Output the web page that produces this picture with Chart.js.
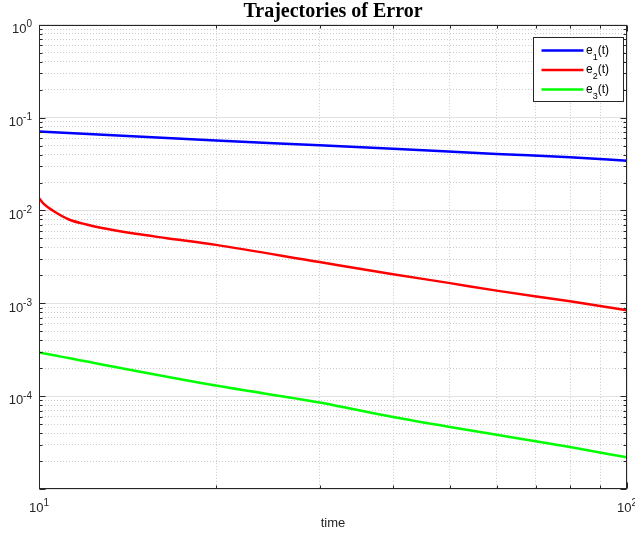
<!DOCTYPE html>
<html>
<head>
<meta charset="utf-8">
<title>Trajectories of Error</title>
<script src="https://cdn.jsdelivr.net/npm/chart.js@4.4.1/dist/chart.umd.min.js"></script>
<style>
  html, body { margin: 0; padding: 0; background: #fff; }
  #wrap { width: 635px; height: 535px; position: relative; }
</style>
</head>
<body>
<div id="wrap"><canvas id="chart"></canvas></div>
<script>
// values (log-log axes)
const t1 = [10, 20, 30, 40, 60, 80, 100];
const e1 = [0.0707, 0.0567, 0.0505, 0.0463, 0.0406, 0.0375, 0.0344];

const t2 = [10, 10.2, 10.55, 11.25, 12, 12.8, 14.6, 16.5, 20, 30, 40, 50, 60, 80, 100];
const e2 = [0.0136, 0.0117, 0.0100, 0.0080, 0.0071, 0.00647, 0.0056, 0.00503, 0.00426, 0.00278, 0.00206, 0.00165, 0.00137, 0.00105, 0.00084];

const t3 = [10, 20, 30, 40, 50, 60, 80, 100];
const e3 = [2.95e-4, 1.30e-4, 8.55e-5, 5.96e-5, 4.65e-5, 3.84e-5, 2.83e-5, 2.19e-5];

const seriesLabels = ["e_1(t)", "e_2(t)", "e_3(t)"];
const seriesColors = ["#0000ff", "#ff0000", "#00ff00"];

// axis ticks
const xMajor = [10, 100];
const xMinor = [20, 30, 40, 50, 60, 70, 80, 90];
const xTickLabels = ["10^{1}", "10^{2}"];
const yMajor = [1e-5, 1e-4, 1e-3, 1e-2, 1e-1, 1];
const yMinor = [-5, -4, -3, -2, -1].flatMap(k => [2, 3, 4, 5, 6, 7, 8, 9].map(m => m * Math.pow(10, k)));
const yTickValues = [1e-4, 1e-3, 1e-2, 1e-1, 1];
const yTickLabels = ["10^{-4}", "10^{-3}", "10^{-2}", "10^{-1}", "10^{0}"];

const AX = "#262626";
const SANS = '"Liberation Sans", Arial, sans-serif';

const pts = (xs, ys) => xs.map((x, i) => ({ x, y: ys[i] }));

// split "10^{-1}" / "e_1(t)" into normal, super and sub pieces
function texParts(s) {
  const parts = [];
  let i = 0;
  while (i < s.length) {
    const c = s[i];
    if ((c === "^" || c === "_") && i + 1 < s.length) {
      let txt;
      if (s[i + 1] === "{") { const j = s.indexOf("}", i); txt = s.slice(i + 2, j); i = j + 1; }
      else { txt = s[i + 1]; i += 2; }
      parts.push({ txt, mode: c });
    } else {
      let j = i;
      while (j < s.length && s[j] !== "^" && s[j] !== "_") j++;
      parts.push({ txt: s.slice(i, j), mode: "" });
      i = j;
    }
  }
  return parts;
}

function drawTex(ctx, s, x, y, align, size, color) {
  const parts = texParts(s);
  const small = Math.round(size * 0.75);
  const fontFor = p => `${p.mode ? small : size}px ${SANS}`;
  let w = 0;
  parts.forEach(p => { ctx.font = fontFor(p); p.w = ctx.measureText(p.txt).width; w += p.w; });
  let cx = align === "right" ? x - w : align === "center" ? x - w / 2 : x;
  ctx.fillStyle = color;
  ctx.textAlign = "left";
  ctx.textBaseline = "alphabetic";
  parts.forEach(p => {
    ctx.font = fontFor(p);
    const dy = p.mode === "^" ? -size * 0.45 : p.mode === "_" ? size * 0.5 : 0;
    ctx.fillText(p.txt, cx, y + dy);
    cx += p.w;
  });
}

// box, inward ticks, tick labels and legend in the MATLAB style
const matlabAxes = {
  id: "matlabAxes",
  afterDraw(chart) {
    const { ctx, chartArea: a, scales } = chart;
    ctx.save();
    ctx.strokeStyle = AX;
    ctx.lineWidth = 1;
    const L = Math.round(a.left) + 0.5, R = Math.round(a.right) - 0.5;
    const T = Math.round(a.top) + 0.5, B = Math.round(a.bottom) - 0.5;

    const tickSet = (vals, scale, len, horiz) => {
      vals.forEach(v => {
        const p = Math.round(scale.getPixelForValue(v)) + 0.5;
        ctx.beginPath();
        if (horiz) {
          ctx.moveTo(p, B); ctx.lineTo(p, B - len);
          ctx.moveTo(p, T); ctx.lineTo(p, T + len);
        } else {
          ctx.moveTo(L, p); ctx.lineTo(L + len, p);
          ctx.moveTo(R, p); ctx.lineTo(R - len, p);
        }
        ctx.stroke();
      });
    };
    tickSet(xMajor, scales.x, 6, true);
    tickSet(xMinor, scales.x, 3, true);
    tickSet(yMajor, scales.y, 6, false);
    tickSet(yMinor, scales.y, 3, false);
    ctx.strokeRect(L, T, R - L, B - T);

    yTickValues.forEach((v, i) => {
      const p = scales.y.getPixelForValue(v);
      drawTex(ctx, yTickLabels[i], a.left - 7, p + 8.3, "right", 13, AX);
    });
    xMajor.forEach((v, i) => {
      const p = scales.x.getPixelForValue(v);
      drawTex(ctx, xTickLabels[i], p, a.bottom + 22.5, "center", 13, AX);
    });

    // legend
    const bw = 90, bh = 64;
    const bx = Math.round(a.right - 4 - bw) + 0.5, by = Math.round(a.top + 12) + 0.5;
    ctx.fillStyle = "#fff";
    ctx.fillRect(bx, by, bw, bh);
    ctx.strokeStyle = AX;
    ctx.strokeRect(bx, by, bw, bh);
    chart.data.datasets.forEach((ds, i) => {
      const ry = by + 13 + i * 19.5;
      ctx.strokeStyle = ds.borderColor;
      ctx.lineWidth = 2.5;
      ctx.beginPath();
      ctx.moveTo(bx + 8, ry); ctx.lineTo(bx + 50, ry);
      ctx.stroke();
      drawTex(ctx, ds.label, bx + 52.5, ry + 3, "left", 12, "#000");
    });
    ctx.restore();
  }
};

const logAxis = (min, max, pos, ticks, gridOpts, fit) => ({
  type: "logarithmic",
  position: pos,
  min, max,
  afterBuildTicks: s => { s.ticks = ticks.map(v => ({ value: v })); },
  afterFit: fit,
  ticks: { display: false },
  grid: { drawTicks: false, color: gridOpts.color, lineWidth: 1 },
  border: { display: false, dash: gridOpts.dash }
});

const major = { color: "#e2e2e2", dash: [] };
const minor = { color: "#cacaca", dash: [1, 2] };

const xAxis = logAxis(10, 100, "bottom", xMajor, major, s => { s.height = 46; });
xAxis.title = {
  display: true, text: "time", color: AX,
  font: { family: SANS, size: 13 },
  padding: { top: 0, bottom: 4 }
};

new Chart(document.getElementById("chart"), {
  type: "line",
  data: {
    datasets: [
      { label: seriesLabels[0], data: pts(t1, e1), borderColor: seriesColors[0] },
      { label: seriesLabels[1], data: pts(t2, e2), borderColor: seriesColors[1] },
      { label: seriesLabels[2], data: pts(t3, e3), borderColor: seriesColors[2] }
    ]
  },
  options: {
    responsive: true,
    maintainAspectRatio: false,
    animation: false,
    layout: { padding: { left: 0, right: 8, top: 0, bottom: 0 } },
    elements: {
      point: { radius: 0 },
      line: { borderWidth: 2.5, cubicInterpolationMode: "monotone", fill: false }
    },
    scales: {
      x: xAxis,
      xm: logAxis(10, 100, "bottom", xMinor, minor, s => { s.height = 0; }),
      y: logAxis(1e-5, 1, "left", yMajor, major, s => { s.width = 39; }),
      ym: logAxis(1e-5, 1, "left", yMinor, minor, s => { s.width = 0; })
    },
    plugins: {
      legend: { display: false },
      tooltip: { enabled: false },
      title: {
        display: true,
        text: "Trajectories of Error",
        fullSize: false,
        color: "#000",
        font: { family: '"Liberation Serif", "Times New Roman", serif', size: 20, weight: "bold" },
        padding: { top: 0, bottom: 0.8 }
      }
    }
  },
  plugins: [matlabAxes]
});
</script>
</body>
</html>
